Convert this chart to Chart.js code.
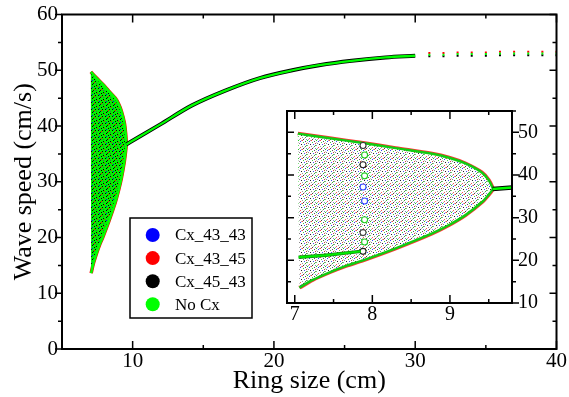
<!DOCTYPE html>
<html>
<head>
<meta charset="utf-8">
<script src="https://cdn.jsdelivr.net/npm/chart.js@4.4.1/dist/chart.umd.min.js"></script>
<style>
  body { margin: 0; background: #fff; }
  #wrap { position: relative; width: 569px; height: 397px; }
  #inset-canvas { position: absolute; left: 280px; top: 95px; }
</style>
</head>
<body>
<div id="wrap">
  <canvas id="main-canvas" width="569" height="397"></canvas>
  <canvas id="inset-canvas" width="270" height="235"></canvas>
</div>
<script>
// legend series
var seriesNames = ['Cx_43_43', 'Cx_43_45', 'Cx_45_43', 'No Cx'];
var seriesColors = ['#0000ff', '#ff0000', '#000000', '#00ff00'];

// edges of the chaotic region (ring size 7 - 9.55 cm)
var upperX = [7.04, 7.45, 7.88, 8.3, 8.77, 9.0, 9.2, 9.41, 9.5, 9.55];
var upperY = [49.7, 48.6, 47.5, 46.3, 45.0, 44.0, 42.7, 40.6, 38.8, 37.0];
var lowerX = [7.06, 7.23, 7.45, 7.66, 7.88, 8.3, 8.77, 9.0, 9.2, 9.41, 9.5, 9.55];
var lowerY = [13.6, 15.4, 17.2, 18.7, 20.0, 22.8, 26.3, 28.4, 30.6, 33.6, 35.4, 36.6];

// dense band inside the chaotic region
var bandX = [7.05, 7.4, 7.85];
var bandY = [20.7, 21.2, 22.1];

// chain of small loops near 7.9 cm (inset)
var loopX = [7.88, 7.9, 7.88, 7.9, 7.88, 7.9, 7.9, 7.88, 7.9, 7.88];
var loopY = [46.9, 44.7, 42.4, 39.8, 37.2, 33.9, 29.5, 26.5, 24.3, 22.1];
var loopColors = ['#333333', '#22cc22', '#222222', '#22cc22', '#3344ff',
                  '#3344ff', '#22cc22', '#444444', '#22cc22', '#222222'];

// single stable branch
var branchX = [9.55, 10.5, 11.9, 14.2, 16.6, 19.0, 21.3, 23.2, 25.5, 27.9, 30];
var branchY = [36.7, 38.1, 40.2, 43.7, 46.4, 48.6, 50.0, 50.9, 51.7, 52.3, 52.6];

// sparse points for big rings
var tailX = [31, 32, 33, 34, 35, 36, 37, 38, 39, 40];
var tailRed = [53.1, 53.1, 53.2, 53.2, 53.2, 53.3, 53.3, 53.3, 53.3, 53.3];
var tailGreen = [52.8, 52.8, 52.9, 52.9, 52.9, 53.0, 53.0, 53.0, 53.0, 53.0];
var tailBlack = [52.5, 52.5, 52.6, 52.6, 52.6, 52.7, 52.7, 52.7, 52.7, 52.7];

// axes
var mainXTicks = [10, 20, 30, 40];
var mainXMinor = [15, 25, 35];
var mainYTicks = [0, 10, 20, 30, 40, 50, 60];
var mainYMinor = [5, 15, 25, 35, 45, 55];
var insetXTicks = [7, 8, 9];
var insetXMinor = [7.5, 8.5, 9.5];
var insetYTicks = [10, 20, 30, 40, 50];
var insetYMinor = [15, 25, 35, 45, 55];

function toPoints(xs, ys) {
  return xs.map(function (x, i) { return { x: x, y: ys[i] }; });
}

var cloudPoly = toPoints(upperX, upperY).concat(toPoints(lowerX, lowerY).reverse());
var branch = toPoints(branchX, branchY);
var band = toPoints(bandX, bandY);

// speckle texture for the filled region
function speckle(bg, dots, size) {
  var c = document.createElement('canvas');
  c.width = size;
  c.height = size;
  var g = c.getContext('2d');
  g.fillStyle = bg;
  g.fillRect(0, 0, size, size);
  dots.forEach(function (d) {
    g.fillStyle = d[2];
    g.fillRect(d[0], d[1], 1, 1);
  });
  return g.createPattern(c, 'repeat');
}

var mainFill = speckle('#00f000', [
  [1, 0, '#000'], [5, 1, '#000'], [3, 2, '#000'], [0, 4, '#000'],
  [4, 4, '#000'], [2, 6, '#111'],
  [3, 5, '#ff0000'], [6, 2, '#cc2222'], [1, 3, '#0000ff'], [5, 6, '#555']
], 7);

var insetFill = speckle('#ffffff', [
  [0, 0, '#22cc22'], [4, 0, '#ff4444'], [7, 1, '#555'], [2, 1, '#3344ff'],
  [5, 2, '#44cc44'], [8, 3, '#cc4444'], [1, 3, '#888'], [3, 4, '#222'],
  [6, 4, '#4455ee'], [0, 5, '#66dd66'], [4, 6, '#999'], [7, 6, '#33bb33'],
  [2, 7, '#ff5555'], [5, 8, '#444'], [8, 8, '#7788cc'], [1, 8, '#aaa'],
  [6, 7, '#bbb'], [3, 0, '#aaa'], [8, 5, '#777'], [0, 2, '#ccc']
], 9);

// frame + inward/outward ticks
function framePlugin(xMajor, xMinor, yMajor, yMinor, yDir) {
  return {
    id: 'frame',
    beforeDraw: function (chart) {
      var a = chart.chartArea;
      chart.ctx.save();
      chart.ctx.fillStyle = '#fff';
      chart.ctx.fillRect(a.left, a.top, a.right - a.left, a.bottom - a.top);
      chart.ctx.restore();
    },
    afterDraw: function (chart) {
      var ctx = chart.ctx, a = chart.chartArea;
      var xs = chart.scales.x, ys = chart.scales.y;
      ctx.save();
      ctx.strokeStyle = '#000';
      ctx.lineWidth = 1.5;
      ctx.beginPath();
      function xt(v, len) {
        var p = xs.getPixelForValue(v);
        ctx.moveTo(p, a.bottom); ctx.lineTo(p, a.bottom - len);
        ctx.moveTo(p, a.top); ctx.lineTo(p, a.top + len);
      }
      function yt(v, len) {
        var p = ys.getPixelForValue(v);
        ctx.moveTo(a.left, p); ctx.lineTo(a.left + yDir * len, p);
        ctx.moveTo(a.right, p); ctx.lineTo(a.right + yDir * len, p);
      }
      xMajor.forEach(function (v) { xt(v, 8); });
      xMinor.forEach(function (v) { xt(v, 4); });
      yMajor.forEach(function (v) { yt(v, 7); });
      yMinor.forEach(function (v) { yt(v, 4); });
      ctx.stroke();
      ctx.lineWidth = 2;
      ctx.strokeRect(a.left, a.top, a.right - a.left, a.bottom - a.top);
      ctx.restore();
    }
  };
}

var serif = '"Liberation Serif", "Times New Roman", serif';

var legendPlugin = {
  id: 'boxLegend',
  afterDraw: function (chart) {
    var ctx = chart.ctx;
    ctx.save();
    ctx.fillStyle = '#fff';
    ctx.fillRect(130, 218, 122, 100);
    ctx.strokeStyle = '#000';
    ctx.lineWidth = 1.5;
    ctx.strokeRect(130, 218, 122, 100);
    ctx.font = '17px ' + serif;
    ctx.textBaseline = 'middle';
    seriesNames.forEach(function (name, i) {
      var y = 235 + i * 23.1;
      ctx.fillStyle = seriesColors[i];
      ctx.beginPath();
      ctx.arc(152.7, y, 7, 0, Math.PI * 2);
      ctx.fill();
      ctx.fillStyle = '#000';
      ctx.fillText(name, 175, y + 1);
    });
    ctx.restore();
  }
};

function lineSet(data, color, width, order, extra) {
  var ds = {
    data: data, showLine: true, fill: false, borderColor: color,
    borderWidth: width, pointRadius: 0, order: order
  };
  for (var k in extra) ds[k] = extra[k];
  return ds;
}

function tailSet(ys, color, order) {
  return {
    data: toPoints(tailX, ys), showLine: false, pointStyle: 'rect',
    pointRadius: 1.4, backgroundColor: color, borderWidth: 0, order: order
  };
}

new Chart(document.querySelector('#main-canvas'), {
  type: 'scatter',
  data: {
    datasets: [
      lineSet(cloudPoly, '#ff0000', 3.5, 10, { tension: 0.3 }),
      lineSet(cloudPoly, '#00ff00', 2.5, 9, { tension: 0.3, fill: 'shape', backgroundColor: mainFill }),
      lineSet(branch, '#000000', 4, 8, { cubicInterpolationMode: 'monotone' }),
      lineSet(branch, '#00ff00', 2.3, 7, { cubicInterpolationMode: 'monotone' }),
      tailSet(tailBlack, '#000000', 6),
      tailSet(tailRed, '#ff0000', 5),
      tailSet(tailGreen, '#00ff00', 4)
    ]
  },
  options: {
    responsive: false,
    animation: false,
    layout: { padding: { left: 0, right: 11, top: 12, bottom: 0 } },
    plugins: { legend: { display: false }, tooltip: { enabled: false } },
    scales: {
      x: {
        type: 'linear', min: 5, max: 40,
        grid: { display: false, drawTicks: false },
        border: { display: false },
        afterBuildTicks: function (s) { s.ticks = mainXTicks.map(function (v) { return { value: v }; }); },
        afterFit: function (s) { s.height = 48; },
        ticks: { color: '#000', padding: 2, font: { family: serif, size: 21, lineHeight: 1 } },
        title: {
          display: true, text: 'Ring size (cm)', color: '#000',
          font: { family: serif, size: 26, lineHeight: 1.2 }, padding: { top: 0, bottom: 0 }
        }
      },
      y: {
        type: 'linear', min: 0, max: 60,
        grid: { display: false, drawTicks: false },
        border: { display: false },
        afterBuildTicks: function (s) { s.ticks = mainYTicks.map(function (v) { return { value: v }; }); },
        afterFit: function (s) { s.width = 62; },
        ticks: { color: '#000', padding: 4, font: { family: serif, size: 21, lineHeight: 1 } },
        title: {
          display: true, text: 'Wave speed (cm/s)', color: '#000',
          font: { family: serif, size: 26, lineHeight: 1.2 }, padding: { top: 9, bottom: 0 }
        }
      }
    }
  },
  plugins: [framePlugin(mainXTicks, mainXMinor, mainYTicks, mainYMinor, -1), legendPlugin]
});

new Chart(document.querySelector('#inset-canvas'), {
  type: 'scatter',
  data: {
    datasets: [
      lineSet(cloudPoly, '#ff3333', 4, 10, { tension: 0.3 }),
      lineSet(cloudPoly, '#11cc11', 2.5, 9, { tension: 0.3, fill: 'shape', backgroundColor: insetFill }),
      {
        data: toPoints(loopX, loopY), showLine: false, pointStyle: 'circle',
        pointRadius: 3, pointBorderWidth: 1.1, backgroundColor: '#ffffff',
        borderColor: loopColors, order: 8
      },
      lineSet(band, '#118811', 3.5, 7),
      lineSet(band, '#00ee00', 2, 6),
      lineSet(branch, '#000000', 4.5, 5, { cubicInterpolationMode: 'monotone' }),
      lineSet(branch, '#00ff00', 2.5, 4, { cubicInterpolationMode: 'monotone' })
    ]
  },
  options: {
    responsive: false,
    animation: false,
    layout: { padding: { left: 7, right: 0, top: 7, bottom: 0 } },
    plugins: { legend: { display: false }, tooltip: { enabled: false } },
    scales: {
      x: {
        type: 'linear', min: 6.9, max: 9.8,
        grid: { display: false, drawTicks: false },
        border: { display: false },
        afterBuildTicks: function (s) { s.ticks = insetXTicks.map(function (v) { return { value: v }; }); },
        afterFit: function (s) { s.height = 27; },
        ticks: { color: '#000', padding: 2, font: { family: serif, size: 20, lineHeight: 1 } }
      },
      y: {
        type: 'linear', position: 'right', min: 10, max: 55,
        grid: { display: false, drawTicks: false },
        border: { display: false },
        afterBuildTicks: function (s) { s.ticks = insetYTicks.map(function (v) { return { value: v }; }); },
        afterFit: function (s) { s.width = 38; },
        ticks: { color: '#000', padding: 6, font: { family: serif, size: 20, lineHeight: 1 } }
      }
    }
  },
  plugins: [framePlugin(insetXTicks, insetXMinor, insetYTicks, insetYMinor, 1)]
});
</script>
</body>
</html>
